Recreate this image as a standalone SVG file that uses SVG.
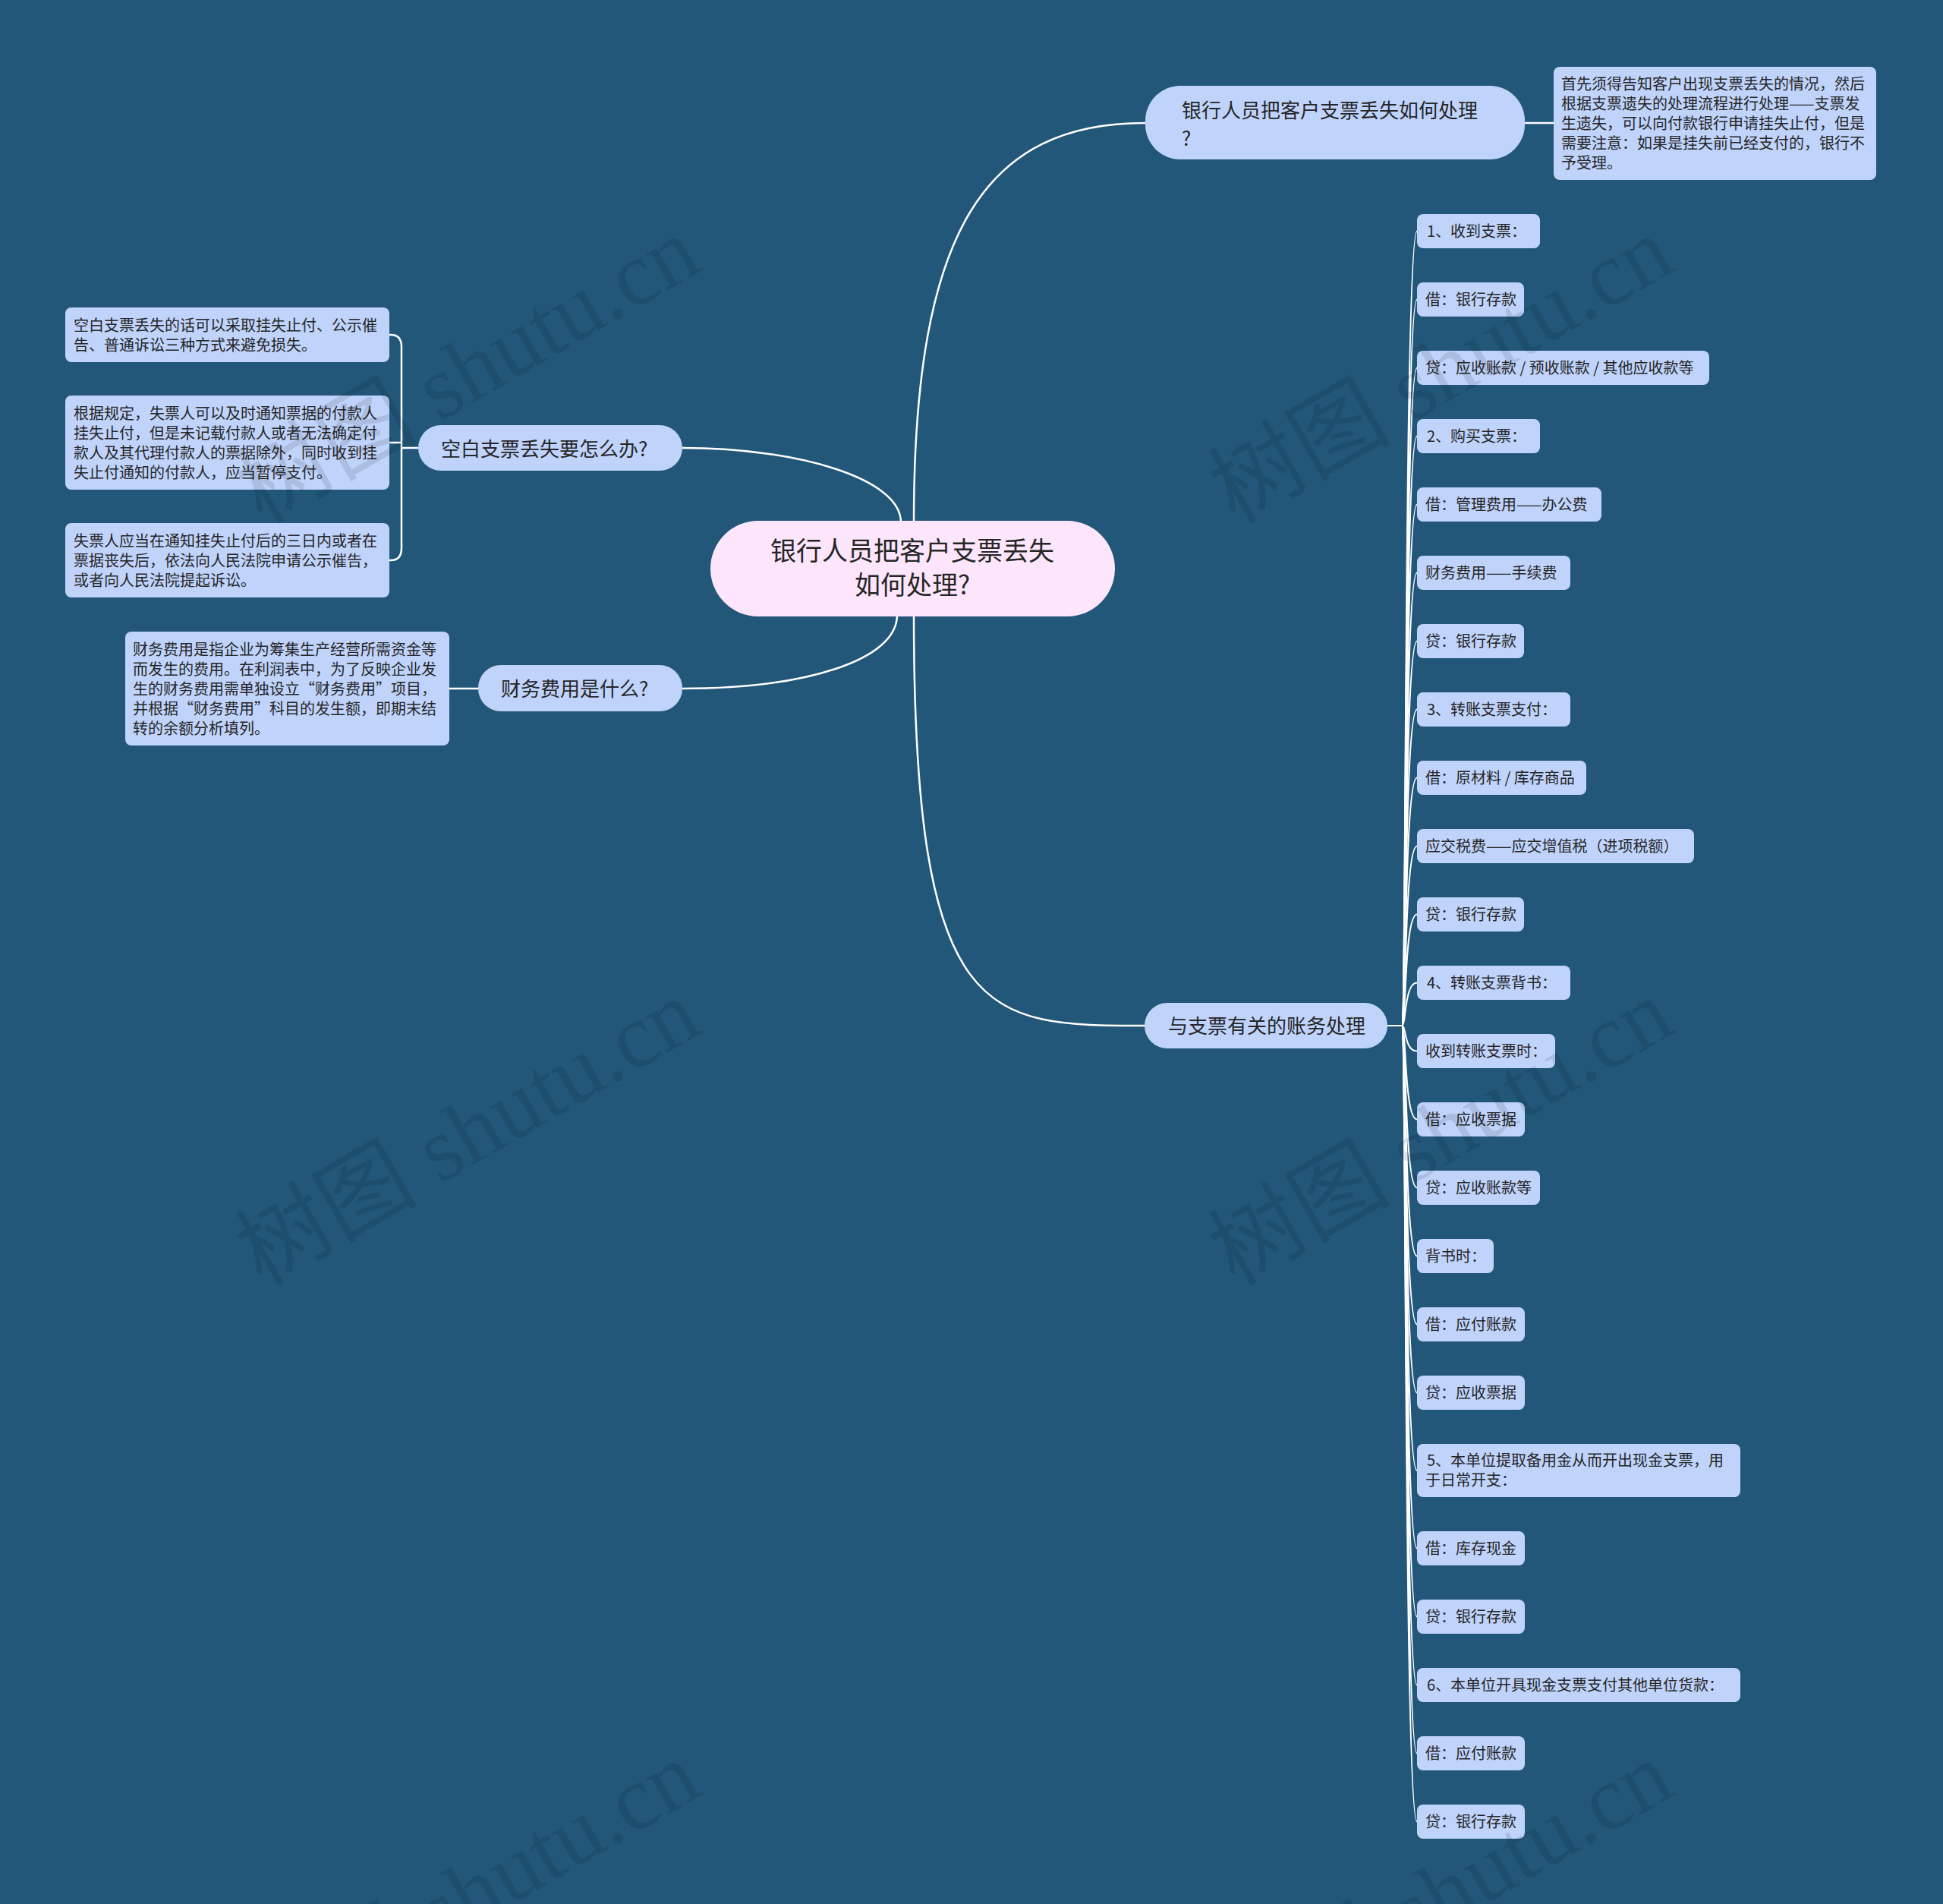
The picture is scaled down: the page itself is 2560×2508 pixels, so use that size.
<svg xmlns="http://www.w3.org/2000/svg" width="2560" height="2508" viewBox="0 0 2560 2508">
<style>
text{font-family:"Noto Sans CJK SC","Noto Sans",sans-serif;fill:#262626}
.n{fill:#bfd3fb}
.c{fill:#fde6fb}
.t20{font-size:20px}
.t26{font-size:26px}
.t34{font-size:34px}
.lk{fill:none;stroke:#ffffff;stroke-width:2.5}
.ls{fill:none;stroke:#ffffff;stroke-width:2}
.wm{font-family:"Liberation Serif","Noto Sans CJK SC",serif;font-size:120px;fill:#000;fill-opacity:0.1}
</style>
<rect x="0" y="0" width="2560" height="2508" fill="#22577a"/>

<g id="connectors">
<path class="lk" d="M1204,688 C1204,300 1300,162 1509,162"/>
<path class="lk" d="M1204,810 C1204,1351 1300,1351 1509,1351"/>
<path class="lk" d="M1187,688 C1187,630 1050,590 899,590"/>
<path class="lk" d="M1182,810 C1182,870 1060,907 899,907"/>
<path class="lk" d="M2009,162 H2047"/>
<path class="lk" d="M630,907 H592"/>
<path class="lk" d="M551,590 H529"/>
<path class="lk" d="M529,590 V457 Q529,441 515,441 H513"/>
<path class="lk" d="M529,583 H513"/>
<path class="lk" d="M529,590 V722 Q529,738 515,738 H513"/>
<path class="ls" d="M1828,1351 H1847"/>
<path class="ls" d="M1847,1351 C1853,1351 1850,304.5 1867,304.5"/>
<path class="ls" d="M1847,1351 C1853,1351 1850,394.5 1867,394.5"/>
<path class="ls" d="M1847,1351 C1853,1351 1850,484.5 1867,484.5"/>
<path class="ls" d="M1847,1351 C1853,1351 1850,574.5 1867,574.5"/>
<path class="ls" d="M1847,1351 C1853,1351 1850,664.5 1867,664.5"/>
<path class="ls" d="M1847,1351 C1853,1351 1850,754.5 1867,754.5"/>
<path class="ls" d="M1847,1351 C1853,1351 1850,844.5 1867,844.5"/>
<path class="ls" d="M1847,1351 C1853,1351 1850,934.5 1867,934.5"/>
<path class="ls" d="M1847,1351 C1853,1351 1850,1024.5 1867,1024.5"/>
<path class="ls" d="M1847,1351 C1853,1351 1850,1114.5 1867,1114.5"/>
<path class="ls" d="M1847,1351 C1853,1351 1850,1204.5 1867,1204.5"/>
<path class="ls" d="M1847,1351 C1853,1351 1850,1294.5 1867,1294.5"/>
<path class="ls" d="M1847,1351 C1853,1351 1850,1384.5 1867,1384.5"/>
<path class="ls" d="M1847,1351 C1853,1351 1850,1474.5 1867,1474.5"/>
<path class="ls" d="M1847,1351 C1853,1351 1850,1564.5 1867,1564.5"/>
<path class="ls" d="M1847,1351 C1853,1351 1850,1654.5 1867,1654.5"/>
<path class="ls" d="M1847,1351 C1853,1351 1850,1744.5 1867,1744.5"/>
<path class="ls" d="M1847,1351 C1853,1351 1850,1834.5 1867,1834.5"/>
<path class="ls" d="M1847,1351 C1853,1351 1850,1937 1867,1937"/>
<path class="ls" d="M1847,1351 C1853,1351 1850,2039.5 1867,2039.5"/>
<path class="ls" d="M1847,1351 C1853,1351 1850,2129.5 1867,2129.5"/>
<path class="ls" d="M1847,1351 C1853,1351 1850,2219.5 1867,2219.5"/>
<path class="ls" d="M1847,1351 C1853,1351 1850,2309.5 1867,2309.5"/>
<path class="ls" d="M1847,1351 C1853,1351 1850,2399.5 1867,2399.5"/>
</g>

<g id="center">
<rect class="c" x="936" y="686" width="533" height="126" rx="63"/>
<text class="t34" x="1202" y="738" text-anchor="middle">银行人员把客户支票丢失</text>
<text class="t34" x="1202" y="783" text-anchor="middle">如何处理?</text>
</g>

<g id="b1">
<rect class="n" x="1509" y="113" width="500" height="97" rx="46"/>
<text class="t26" x="1557" y="155">银行人员把客户支票丢失如何处理</text>
<text class="t26" x="1557" y="192">?</text>
</g>
<g id="b1d">
<rect class="n" x="2047" y="88" width="425" height="149" rx="8"/>
<text class="t20" x="2057" y="118">首先须得告知客户出现支票丢失的情况，然后</text>
<text class="t20" x="2057" y="144">根据支票遗失的处理流程进行处理——支票发</text>
<text class="t20" x="2057" y="170">生遗失，可以向付款银行申请挂失止付，但是</text>
<text class="t20" x="2057" y="196">需要注意：如果是挂失前已经支付的，银行不</text>
<text class="t20" x="2057" y="222">予受理。</text>
</g>

<g id="b2">
<rect class="n" x="551" y="560" width="348" height="60" rx="30"/>
<text class="t26" x="581" y="601">空白支票丢失要怎么办?</text>
</g>
<g id="b2a">
<rect class="n" x="86" y="405" width="427" height="72" rx="8"/>
<text class="t20" x="97" y="436">空白支票丢失的话可以采取挂失止付、公示催</text>
<text class="t20" x="97" y="462">告、普通诉讼三种方式来避免损失。</text>
</g>
<g id="b2b">
<rect class="n" x="86" y="521" width="427" height="124" rx="8"/>
<text class="t20" x="97" y="552">根据规定，失票人可以及时通知票据的付款人</text>
<text class="t20" x="97" y="578">挂失止付，但是未记载付款人或者无法确定付</text>
<text class="t20" x="97" y="604">款人及其代理付款人的票据除外，同时收到挂</text>
<text class="t20" x="97" y="630">失止付通知的付款人，应当暂停支付。</text>
</g>
<g id="b2c">
<rect class="n" x="86" y="689" width="427" height="98" rx="8"/>
<text class="t20" x="97" y="720">失票人应当在通知挂失止付后的三日内或者在</text>
<text class="t20" x="97" y="746">票据丧失后，依法向人民法院申请公示催告，</text>
<text class="t20" x="97" y="772">或者向人民法院提起诉讼。</text>
</g>

<g id="b3">
<rect class="n" x="630" y="876" width="269" height="61" rx="30"/>
<text class="t26" x="660" y="917">财务费用是什么?</text>
</g>
<g id="b3a">
<rect class="n" x="165" y="832" width="427" height="150" rx="8"/>
<text class="t20" x="175" y="863">财务费用是指企业为筹集生产经营所需资金等</text>
<text class="t20" x="175" y="889">而发生的费用。在利润表中，为了反映企业发</text>
<text class="t20" x="175" y="915">生的财务费用需单独设立“财务费用”项目，</text>
<text class="t20" x="175" y="941">并根据“财务费用”科目的发生额，即期末结</text>
<text class="t20" x="175" y="967">转的余额分析填列。</text>
</g>

<g id="b4">
<rect class="n" x="1508" y="1321" width="320" height="60" rx="30"/>
<text class="t26" x="1539" y="1361">与支票有关的账务处理</text>
</g>

<g id="c1"><rect class="n" x="1867" y="282" width="162" height="45" rx="8"/><text class="t20" x="1880" y="312">1、收到支票：</text></g>
<g id="c2"><rect class="n" x="1867" y="372" width="141" height="45" rx="8"/><text class="t20" x="1878" y="402">借：银行存款</text></g>
<g id="c3"><rect class="n" x="1867" y="462" width="385" height="45" rx="8"/><text class="t20" x="1878" y="492">贷：应收账款 / 预收账款 / 其他应收款等</text></g>
<g id="c4"><rect class="n" x="1867" y="552" width="162" height="45" rx="8"/><text class="t20" x="1880" y="582">2、购买支票：</text></g>
<g id="c5"><rect class="n" x="1867" y="642" width="243" height="45" rx="8"/><text class="t20" x="1878" y="672">借：管理费用——办公费</text></g>
<g id="c6"><rect class="n" x="1867" y="732" width="202" height="45" rx="8"/><text class="t20" x="1878" y="762">财务费用——手续费</text></g>
<g id="c7"><rect class="n" x="1867" y="822" width="141" height="45" rx="8"/><text class="t20" x="1878" y="852">贷：银行存款</text></g>
<g id="c8"><rect class="n" x="1867" y="912" width="202" height="45" rx="8"/><text class="t20" x="1880" y="942">3、转账支票支付：</text></g>
<g id="c9"><rect class="n" x="1867" y="1002" width="223" height="45" rx="8"/><text class="t20" x="1878" y="1032">借：原材料 / 库存商品</text></g>
<g id="c10"><rect class="n" x="1867" y="1092" width="365" height="45" rx="8"/><text class="t20" x="1878" y="1122">应交税费——应交增值税（进项税额）</text></g>
<g id="c11"><rect class="n" x="1867" y="1182" width="141" height="45" rx="8"/><text class="t20" x="1878" y="1212">贷：银行存款</text></g>
<g id="c12"><rect class="n" x="1867" y="1272" width="202" height="45" rx="8"/><text class="t20" x="1880" y="1302">4、转账支票背书：</text></g>
<g id="c13"><rect class="n" x="1867" y="1362" width="182" height="45" rx="8"/><text class="t20" x="1878" y="1392">收到转账支票时：</text></g>
<g id="c14"><rect class="n" x="1867" y="1452" width="142" height="45" rx="8"/><text class="t20" x="1878" y="1482">借：应收票据</text></g>
<g id="c15"><rect class="n" x="1867" y="1542" width="162" height="45" rx="8"/><text class="t20" x="1878" y="1572">贷：应收账款等</text></g>
<g id="c16"><rect class="n" x="1867" y="1632" width="101" height="45" rx="8"/><text class="t20" x="1878" y="1662">背书时：</text></g>
<g id="c17"><rect class="n" x="1867" y="1722" width="142" height="45" rx="8"/><text class="t20" x="1878" y="1752">借：应付账款</text></g>
<g id="c18"><rect class="n" x="1867" y="1812" width="142" height="45" rx="8"/><text class="t20" x="1878" y="1842">贷：应收票据</text></g>
<g id="c19"><rect class="n" x="1867" y="1902" width="426" height="70" rx="8"/><text class="t20" x="1880" y="1931">5、本单位提取备用金从而开出现金支票，用</text><text class="t20" x="1878" y="1957">于日常开支：</text></g>
<g id="c20"><rect class="n" x="1867" y="2017" width="142" height="45" rx="8"/><text class="t20" x="1878" y="2047">借：库存现金</text></g>
<g id="c21"><rect class="n" x="1867" y="2107" width="142" height="45" rx="8"/><text class="t20" x="1878" y="2137">贷：银行存款</text></g>
<g id="c22"><rect class="n" x="1867" y="2197" width="426" height="45" rx="8"/><text class="t20" x="1880" y="2227">6、本单位开具现金支票支付其他单位货款：</text></g>
<g id="c23"><rect class="n" x="1867" y="2287" width="142" height="45" rx="8"/><text class="t20" x="1878" y="2317">借：应付账款</text></g>
<g id="c24"><rect class="n" x="1867" y="2377" width="142" height="45" rx="8"/><text class="t20" x="1878" y="2407">贷：银行存款</text></g>

<g id="watermark">
<text class="wm" transform="translate(345,691) rotate(-30)">树图 shutu.cn</text>
<text class="wm" transform="translate(1627,691) rotate(-30)">树图 shutu.cn</text>
<text class="wm" transform="translate(345,1695) rotate(-30)">树图 shutu.cn</text>
<text class="wm" transform="translate(1627,1695) rotate(-30)">树图 shutu.cn</text>
<text class="wm" transform="translate(345,2699) rotate(-30)">树图 shutu.cn</text>
<text class="wm" transform="translate(1627,2699) rotate(-30)">树图 shutu.cn</text>
</g>
</svg>
